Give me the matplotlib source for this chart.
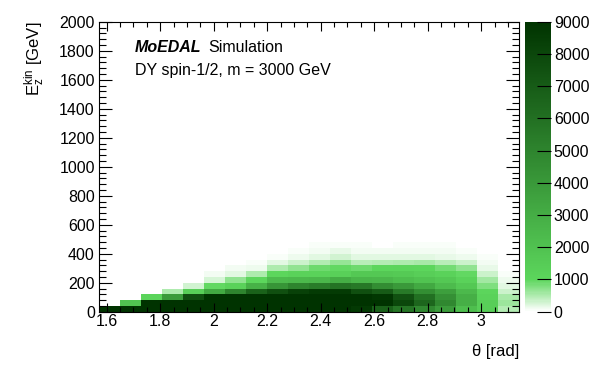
import numpy as np
import matplotlib
matplotlib.use("Agg")
import matplotlib.pyplot as plt
from matplotlib.colors import LinearSegmentedColormap
from matplotlib.ticker import MultipleLocator

plt.rcParams['font.family'] = ['Liberation Sans', 'DejaVu Sans']
plt.rcParams['mathtext.fontset'] = 'custom'
plt.rcParams['mathtext.rm'] = 'Liberation Sans'
plt.rcParams['mathtext.it'] = 'Liberation Sans:italic'

# binning: 20 bins in theta (pi/2 .. pi), 40 GeV bins in E
theta_min, theta_max, n_theta = np.pi / 2, np.pi, 20
e_max, e_bin = 2000, 40

# entries per theta bin, listed from the lowest energy bin upwards
counts = [
    [9500],
    [9500, 1900, 15],
    [9500, 9500, 1100, 20],
    [9500, 9500, 3900, 500, 30],
    [9500, 9500, 7700, 1400, 300, 35, 25, 15],
    [9500, 9500, 9500, 3200, 950, 250, 80, 30, 10],
    [9500, 9500, 9500, 5000, 1200, 700, 210, 80, 30, 15],
    [9500, 9500, 9500, 6700, 2800, 1000, 520, 120, 40, 20, 10],
    [9500, 9500, 9500, 7600, 4200, 2300, 1000, 520, 180, 60, 25, 15],
    [9500, 9500, 9500, 8300, 5000, 2400, 1200, 700, 340, 120, 60, 25, 15],
    [9500, 9500, 9500, 8600, 5400, 2500, 1200, 900, 460, 180, 90, 40, 20, 10],
    [9500, 9500, 9500, 8600, 5900, 3000, 1300, 950, 650, 300, 150, 60, 30, 15, 10],
    [8700, 9500, 9000, 7600, 5600, 2600, 1700, 900, 430, 180, 90, 45, 30, 15, 10],
    [6800, 9500, 8800, 7000, 4600, 2500, 1700, 1000, 460, 210, 90, 35, 20, 12, 10],
    [5800, 8000, 7500, 5500, 4000, 2200, 1600, 1050, 520, 200, 90, 40, 20, 12, 10, 8],
    [4800, 6500, 6000, 4500, 3200, 1900, 1400, 1000, 550, 200, 90, 40, 20, 12, 10, 8, 6],
    [3900, 4800, 4400, 3700, 2300, 1700, 1200, 850, 450, 170, 80, 40, 20, 12, 10, 8, 6, 5],
    [2200, 2900, 2900, 2400, 1700, 1200, 950, 700, 330, 120, 60, 25, 15, 10, 8, 6, 5],
    [1400, 1400, 1200, 1050, 800, 580, 320, 160, 80, 40, 20, 12, 8, 6],
    [480, 620, 560, 350, 200, 110, 60, 35, 15, 8],
]

z_ticks = list(range(0, 9001, 1000))

grid = np.zeros((e_max // e_bin, n_theta))
for i, col in enumerate(counts):
    grid[:len(col), i] = col
grid = np.ma.masked_equal(grid, 0)

theta_edges = np.linspace(theta_min, theta_max, n_theta + 1)
e_edges = np.arange(0, e_max + e_bin, e_bin)

cmap = LinearSegmentedColormap.from_list(
    "moedal_green", [(0.0, "white"), (0.11, "#5cd65c"), (1.0, "#003300")])

fig = plt.figure(figsize=(5.96, 3.74), dpi=100)
ax = fig.add_axes([0.166, 0.1666, 0.705, 0.775])
mesh = ax.pcolormesh(theta_edges, e_edges, grid, cmap=cmap, vmin=0, vmax=9000)

ax.set_xlim(theta_min, theta_max)
ax.set_ylim(0, e_max)
ax.xaxis.set_major_locator(MultipleLocator(0.2))
ax.xaxis.set_minor_locator(MultipleLocator(0.05))
ax.yaxis.set_major_locator(MultipleLocator(200))
ax.yaxis.set_minor_locator(MultipleLocator(40))
ax.xaxis.set_major_formatter(plt.FuncFormatter(lambda v, p: f"{v:g}"))

ax.tick_params(axis='x', which='major', direction='in', top=True, length=6.5, width=0.8, labelsize=11.5, pad=1.5)
ax.tick_params(axis='x', which='minor', direction='in', top=True, length=3.3, width=0.8)
ax.tick_params(axis='y', which='major', direction='in', right=True, length=9.5, width=0.8, labelsize=11.5, pad=3)
ax.tick_params(axis='y', which='minor', direction='in', right=True, length=5, width=0.8)
for s in ax.spines.values():
    s.set_linewidth(0.8)

ax.set_xlabel("θ [rad]", fontsize=12, ha='right', va='top')
ax.xaxis.set_label_coords(1.0, -0.113)
ax.set_ylabel(r"E$_{\mathrm{z}}^{\mathrm{kin}}$ [GeV]", fontsize=12, ha='right', va='center')
ax.yaxis.set_label_coords(-0.152, 1.0)

ax.text(0.0857, 0.8966, "MoEDAL", transform=ax.transAxes, fontsize=11.5,
        fontweight='bold', fontstyle='italic', va='baseline')
ax.text(0.2595, 0.8966, "Simulation", transform=ax.transAxes, fontsize=11.5, va='baseline')
ax.text(0.0857, 0.816, "DY spin-1/2, m = 3000 GeV", transform=ax.transAxes,
        fontsize=11.5, va='baseline')

cax = fig.add_axes([0.881, 0.1666, 0.0436, 0.775])
cb = fig.colorbar(mesh, cax=cax, ticks=z_ticks)
cb.outline.set_visible(False)
cax.tick_params(direction='in', length=10, width=0.8, labelsize=11.5, pad=2)
cax.minorticks_off()

fig.savefig("out.png", dpi=100)
